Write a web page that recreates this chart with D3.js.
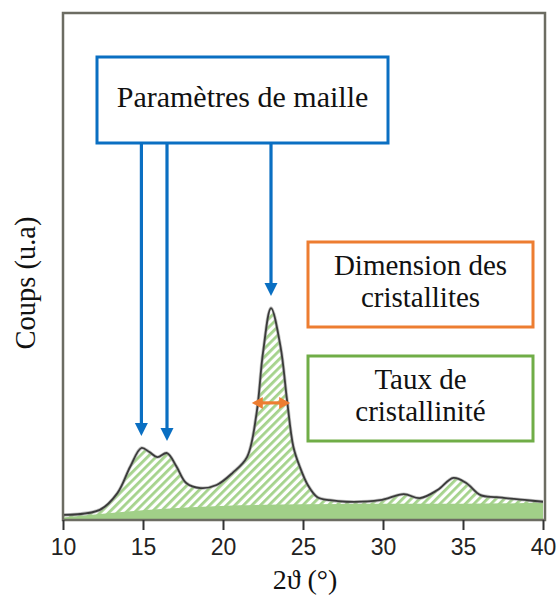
<!DOCTYPE html>
<html><head><meta charset="utf-8">
<script src="https://cdn.jsdelivr.net/npm/d3@7"></script>
<style>
html,body{margin:0;padding:0;background:#fff;}
svg{display:block;}
</style></head>
<body>
<svg id="chart" width="560" height="601"></svg>
<script>
// ---- data ----
const twoTheta = [10, 12.3, 13.4, 14.2, 14.9, 15.4, 15.9, 16.5, 17.1, 17.7, 18.6, 19.6, 20.6, 21.5, 22.1, 22.5, 23.0, 23.6, 24.0, 24.4, 24.8, 25.3, 25.9, 26.7, 27.7, 29.8, 31.3, 32.3, 33.4, 34.4, 35.2, 36.1, 37.1, 39.0, 40];
const counts   = [1.0, 2.0, 5.3, 10.5, 14.2, 13.4, 12.4, 13.2, 10.5, 7.3, 6.3, 6.9, 9.3, 12.4, 21.1, 33.0, 41.8, 34.1, 23.7, 14.4, 10.5, 6.9, 4.5, 3.9, 3.6, 3.9, 5.1, 4.3, 5.9, 8.3, 7.3, 4.9, 4.5, 3.9, 3.6];
const amorphTheta = [10, 12, 15, 18, 21, 25, 30, 35, 40];
const amorphCounts = [0.5, 1.1, 1.9, 2.5, 2.9, 3.1, 3.2, 3.2, 3.4];
const xTicks = [10, 15, 20, 25, 30, 35, 40];
const peakTheta = [14.9, 16.5, 23.0];
const peakCounts = [14.2, 13.2, 41.8];
const fwhmTheta = [21.8, 24.2];
const fwhmLevel = 23.1;
const xLabel = "2ϑ (°)";
const yLabel = "Coups (u.a)";
const boxLatt = ["Paramètres de maille"];
const boxSize = ["Dimension des", "cristallites"];
const boxCryst = ["Taux de", "cristallinité"];

// ---- layout ----
const L = 63, T = 13, R = 545, B = 520;
const svg = d3.select("#chart");
const x = d3.scaleLinear().domain([10, 40]).range([L, 543]);
const y = d3.scaleLinear().domain([0, 100]).range([B, T]);

const BLUE = "#0a6fc2", ORANGE = "#ed7d31", GREEN = "#70ad47";
const SERIF = '"Liberation Serif"';
const SANS = '"Liberation Sans"';

const defs = svg.append("defs");
const pat = defs.append("pattern").attr("id", "hatch").attr("patternUnits", "userSpaceOnUse")
  .attr("width", 6).attr("height", 6).attr("patternTransform", "rotate(45)");
pat.append("rect").attr("width", 6).attr("height", 6).attr("fill", "#fff");
pat.append("rect").attr("x", 0).attr("y", 0).attr("width", 2.8).attr("height", 6).attr("fill", "#a5d38c");

const pts = twoTheta.map((t, i) => [t, counts[i]]);
const amo = amorphTheta.map((t, i) => [t, amorphCounts[i]]);
const crv = d3.curveCatmullRom.alpha(0.5);

// hatched crystalline area
svg.append("path").datum(pts)
  .attr("d", d3.area().x(d => x(d[0])).y0(y(0)).y1(d => y(d[1])).curve(crv))
  .attr("fill", "url(#hatch)");
// solid amorphous area
svg.append("path").datum(amo)
  .attr("d", d3.area().x(d => x(d[0])).y0(y(0)).y1(d => y(d[1])).curve(d3.curveMonotoneX))
  .attr("fill", "#a1d088");
// curve
const line = d3.line().x(d => x(d[0])).y(d => y(d[1])).curve(crv);
svg.append("path").datum(pts).attr("d", line)
  .attr("fill", "none").attr("stroke", "#9a9a9a").attr("stroke-width", 3.4).attr("opacity", 0.6);
svg.append("path").datum(pts).attr("d", line)
  .attr("fill", "none").attr("stroke", "#3a3a3a").attr("stroke-width", 1.8);

// frame
svg.append("rect").attr("x", L).attr("y", T).attr("width", R - L).attr("height", B - T)
  .attr("fill", "none").attr("stroke", "#6c6c62").attr("stroke-width", 2.5);

// x axis
const ax = svg.append("g").attr("transform", `translate(0,${B})`)
  .call(d3.axisBottom(x).tickValues(xTicks).tickSize(10).tickPadding(9).tickFormat(d3.format("d")));
ax.select(".domain").remove();
ax.selectAll(".tick line").attr("stroke", "#333").attr("stroke-width", 2);
ax.attr("font-family", null);
ax.selectAll(".tick text").style("font-family", SANS)
  .style("font-size", "23px").attr("fill", "#222");

// axis labels
svg.append("text").attr("x", 305).attr("y", 589).attr("text-anchor", "middle")
  .style("font-family", SERIF).style("font-size", "28px").attr("fill", "#111").text(xLabel);
svg.append("text").attr("transform", "translate(35,283) rotate(-90)").attr("text-anchor", "middle")
  .style("font-family", SERIF).style("font-size", "28.5px").attr("fill", "#111").text(yLabel);

// boxes
function box(x0, y0, x1, y1, col, lines, baselines, fs) {
  svg.append("rect").attr("x", x0).attr("y", y0).attr("width", x1 - x0).attr("height", y1 - y0)
    .attr("fill", "#fff").attr("stroke", col).attr("stroke-width", 3);
  lines.forEach((s, i) => svg.append("text").attr("x", (x0 + x1) / 2).attr("y", baselines[i])
    .attr("text-anchor", "middle").style("font-family", SERIF).style("font-size", fs + "px")
    .attr("fill", "#111").text(s));
}
box(97, 57, 388, 143, BLUE, boxLatt, [107], 30);
box(308, 242, 533, 327, ORANGE, boxSize, [275, 307], 29);
box(308, 356, 533, 441, GREEN, boxCryst, [389, 421], 29);

// blue arrows
peakTheta.forEach((t, i) => {
  const px = x(t), tip = y(peakCounts[i]) - 12;
  svg.append("line").attr("x1", px).attr("x2", px).attr("y1", 143).attr("y2", tip - 10)
    .attr("stroke", BLUE).attr("stroke-width", 3.2);
  svg.append("path").attr("d", `M${px - 6.5},${tip - 13}L${px + 6.5},${tip - 13}L${px},${tip}Z`).attr("fill", BLUE);
});

// orange double arrow (FWHM)
{
  const x0 = x(fwhmTheta[0]), x1 = x(fwhmTheta[1]), yy = y(fwhmLevel);
  svg.append("line").attr("x1", x0 + 8).attr("x2", x1 - 8).attr("y1", yy).attr("y2", yy)
    .attr("stroke", ORANGE).attr("stroke-width", 3.2);
  svg.append("path").attr("d", `M${x0},${yy}L${x0 + 11},${yy - 6}L${x0 + 11},${yy + 6}Z`).attr("fill", ORANGE);
  svg.append("path").attr("d", `M${x1},${yy}L${x1 - 11},${yy - 6}L${x1 - 11},${yy + 6}Z`).attr("fill", ORANGE);
}
</script>
</body></html>
